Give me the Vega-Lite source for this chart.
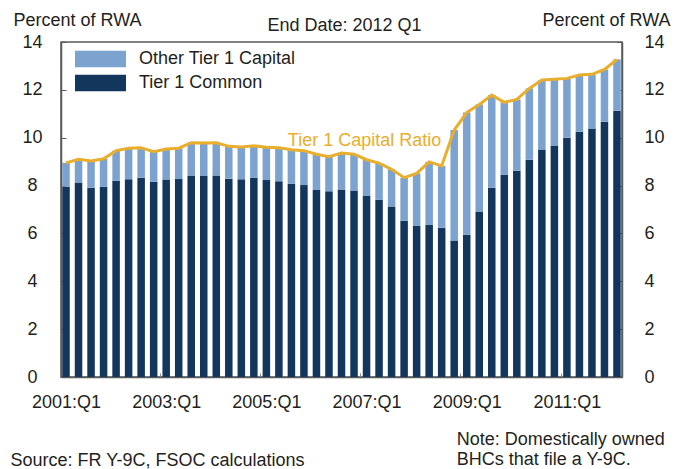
{
  "$schema": "https://vega.github.io/schema/vega-lite/v6.json",
  "autosize": "none",
  "width": 561,
  "height": 335,
  "padding": {"left": 61, "top": 42, "right": 58, "bottom": 92},
  "background": "white",
  "title": {"text": "End Date: 2012 Q1", "anchor": "middle", "frame": "group", "fontSize": 18, "fontWeight": "normal", "font": "Liberation Sans", "color": "#231f20", "baseline": "alphabetic", "offset": 0, "dy": 38, "dx": 3},
  "config": {
    "font": "Liberation Sans",
    "view": {"stroke": "#5a5a5a", "strokeWidth": 1.5},
    "axis": {"grid": false, "labelFont": "Liberation Sans", "labelFontSize": 18, "labelColor": "#231f20", "titleFont": "Liberation Sans", "titleFontSize": 18, "titleFontWeight": "normal", "titleColor": "#231f20", "domainColor": "#5a5a5a", "domainWidth": 1.5, "tickColor": "#5a5a5a"}
  },
  "datasets": {
    "cap": [
      {"q": "2001:Q1", "common": 7.95, "other": 1.00, "ratio": 8.95},
      {"q": "2001:Q2", "common": 8.13, "other": 0.97, "ratio": 9.10},
      {"q": "2001:Q3", "common": 7.91, "other": 1.12, "ratio": 9.03},
      {"q": "2001:Q4", "common": 7.95, "other": 1.17, "ratio": 9.12},
      {"q": "2002:Q1", "common": 8.20, "other": 1.26, "ratio": 9.46},
      {"q": "2002:Q2", "common": 8.26, "other": 1.30, "ratio": 9.56},
      {"q": "2002:Q3", "common": 8.33, "other": 1.25, "ratio": 9.58},
      {"q": "2002:Q4", "common": 8.16, "other": 1.26, "ratio": 9.42},
      {"q": "2003:Q1", "common": 8.25, "other": 1.28, "ratio": 9.53},
      {"q": "2003:Q2", "common": 8.27, "other": 1.29, "ratio": 9.56},
      {"q": "2003:Q3", "common": 8.42, "other": 1.37, "ratio": 9.79},
      {"q": "2003:Q4", "common": 8.40, "other": 1.38, "ratio": 9.78},
      {"q": "2004:Q1", "common": 8.42, "other": 1.37, "ratio": 9.79},
      {"q": "2004:Q2", "common": 8.29, "other": 1.35, "ratio": 9.64},
      {"q": "2004:Q3", "common": 8.26, "other": 1.35, "ratio": 9.61},
      {"q": "2004:Q4", "common": 8.32, "other": 1.34, "ratio": 9.66},
      {"q": "2005:Q1", "common": 8.23, "other": 1.37, "ratio": 9.60},
      {"q": "2005:Q2", "common": 8.18, "other": 1.40, "ratio": 9.58},
      {"q": "2005:Q3", "common": 8.07, "other": 1.43, "ratio": 9.50},
      {"q": "2005:Q4", "common": 8.02, "other": 1.44, "ratio": 9.46},
      {"q": "2006:Q1", "common": 7.81, "other": 1.50, "ratio": 9.31},
      {"q": "2006:Q2", "common": 7.76, "other": 1.45, "ratio": 9.21},
      {"q": "2006:Q3", "common": 7.84, "other": 1.52, "ratio": 9.36},
      {"q": "2006:Q4", "common": 7.79, "other": 1.52, "ratio": 9.31},
      {"q": "2007:Q1", "common": 7.58, "other": 1.50, "ratio": 9.08},
      {"q": "2007:Q2", "common": 7.40, "other": 1.54, "ratio": 8.94},
      {"q": "2007:Q3", "common": 7.13, "other": 1.55, "ratio": 8.68},
      {"q": "2007:Q4", "common": 6.53, "other": 1.80, "ratio": 8.33},
      {"q": "2008:Q1", "common": 6.31, "other": 2.20, "ratio": 8.51},
      {"q": "2008:Q2", "common": 6.35, "other": 2.64, "ratio": 8.99},
      {"q": "2008:Q3", "common": 6.24, "other": 2.58, "ratio": 8.82},
      {"q": "2008:Q4", "common": 5.70, "other": 4.62, "ratio": 10.32},
      {"q": "2009:Q1", "common": 5.95, "other": 5.10, "ratio": 11.05},
      {"q": "2009:Q2", "common": 6.92, "other": 4.47, "ratio": 11.39},
      {"q": "2009:Q3", "common": 7.91, "other": 3.87, "ratio": 11.78},
      {"q": "2009:Q4", "common": 8.45, "other": 3.03, "ratio": 11.48},
      {"q": "2010:Q1", "common": 8.62, "other": 2.98, "ratio": 11.60},
      {"q": "2010:Q2", "common": 9.08, "other": 2.98, "ratio": 12.06},
      {"q": "2010:Q3", "common": 9.51, "other": 2.90, "ratio": 12.41},
      {"q": "2010:Q4", "common": 9.67, "other": 2.77, "ratio": 12.44},
      {"q": "2011:Q1", "common": 10.00, "other": 2.48, "ratio": 12.48},
      {"q": "2011:Q2", "common": 10.25, "other": 2.37, "ratio": 12.62},
      {"q": "2011:Q3", "common": 10.38, "other": 2.27, "ratio": 12.65},
      {"q": "2011:Q4", "common": 10.67, "other": 2.18, "ratio": 12.85},
      {"q": "2012:Q1", "common": 11.13, "other": 2.14, "ratio": 13.27}
    ],
    "notes": [
      {"label": "Tier 1 Capital Ratio", "q": "2007:Q1", "y": 9.65}
    ],
    "footnote": [
      {"text": "Note: Domestically owned\nBHCs that file a Y-9C.", "q": "2009:Q1", "y": -2.83}
    ]
  },
  "layer": [
    {
      "layer": [
        {
          "data": {"name": "cap"},
          "transform": [{"fold": ["common", "other"], "as": ["component", "value"]}],
          "mark": {"type": "bar"},
          "encoding": {
            "x": {
              "field": "q", "type": "ordinal", "sort": null,
              "scale": {"paddingInner": 0.4, "paddingOuter": 0.1},
              "axis": {
                "values": ["2001:Q1", "2003:Q1", "2005:Q1", "2007:Q1", "2009:Q1", "2011:Q1"],
                "labelAngle": 0, "labelBaseline": "top", "labelPadding": 20,
                "tickSize": -4, "tickColor": "#8a8a8a", "tickOffset": -6.26, "labelOffset": 6.26,
                "title": "Source: FR Y-9C, FSOC calculations",
                "titleAnchor": "start", "titleAlign": "left", "titleBaseline": "alphabetic",
                "titleX": -51, "titleY": 88
              }
            },
            "y": {
              "field": "value", "type": "quantitative", "stack": "zero",
              "scale": {"domain": [0, 14], "nice": false},
              "axis": {
                "values": [0, 2, 4, 6, 8, 10, 12, 14],
                "tickSize": -5, "labelAlign": "center", "labelBaseline": "middle", "labelPadding": 34,
                "title": "Percent of RWA", "titleAngle": 0, "titleAlign": "left", "titleBaseline": "alphabetic",
                "titleX": -48, "titleY": -17
              }
            },
            "color": {
              "field": "component", "type": "nominal",
              "scale": {"domain": ["other", "common"], "range": ["#7ca3cf", "#13365d"]},
              "legend": {
                "orient": "none", "legendX": 13, "legendY": 8, "title": null,
                "labelExpr": "datum.value == 'other' ? 'Other Tier 1 Capital' : 'Tier 1 Common'",
                "symbolType": "M-1,-1.03L5.375,-1.03L5.375,1.03L-1,1.03Z",
                "symbolSize": 256, "symbolStrokeWidth": 0, "symbolOpacity": 1,
                "labelFont": "Liberation Sans", "labelFontSize": 18, "labelColor": "#231f20",
                "labelOffset": 47, "rowPadding": 6
              }
            },
            "order": {"field": "component", "sort": "ascending"}
          }
        },
        {
          "data": {"name": "notes"},
          "mark": {"type": "text", "color": "#e8ae2c", "fontSize": 18, "font": "Liberation Sans", "align": "center", "baseline": "alphabetic", "dx": -2},
          "encoding": {
            "x": {"field": "q", "type": "ordinal", "sort": null},
            "y": {"field": "y", "type": "quantitative", "scale": {"domain": [0, 14], "nice": false}},
            "text": {"field": "label"}
          }
        },
        {
          "data": {"name": "footnote"},
          "mark": {"type": "text", "color": "#231f20", "fontSize": 18, "font": "Liberation Sans", "align": "left", "baseline": "alphabetic", "dx": -10, "lineBreak": "\n", "lineHeight": 20},
          "encoding": {
            "x": {"field": "q", "type": "ordinal", "sort": null},
            "y": {"field": "y", "type": "quantitative", "scale": {"domain": [0, 14], "nice": false}},
            "text": {"field": "text"}
          }
        }
      ]
    },
    {
      "data": {"name": "cap"},
      "mark": {"type": "line", "color": "#e8ae2c", "strokeWidth": 3},
      "encoding": {
        "x": {"field": "q", "type": "ordinal", "sort": null},
        "y": {
          "field": "ratio", "type": "quantitative",
          "scale": {"domain": [0, 14], "nice": false},
          "axis": {
            "orient": "right",
            "values": [0, 2, 4, 6, 8, 10, 12, 14],
            "tickSize": -5, "labelAlign": "left", "labelBaseline": "middle", "labelPadding": 27,
            "title": "Percent of RWA", "titleAngle": 0, "titleAlign": "right", "titleBaseline": "alphabetic",
            "titleX": 48, "titleY": -17
          }
        }
      }
    }
  ],
  "resolve": {"scale": {"y": "independent"}}
}
